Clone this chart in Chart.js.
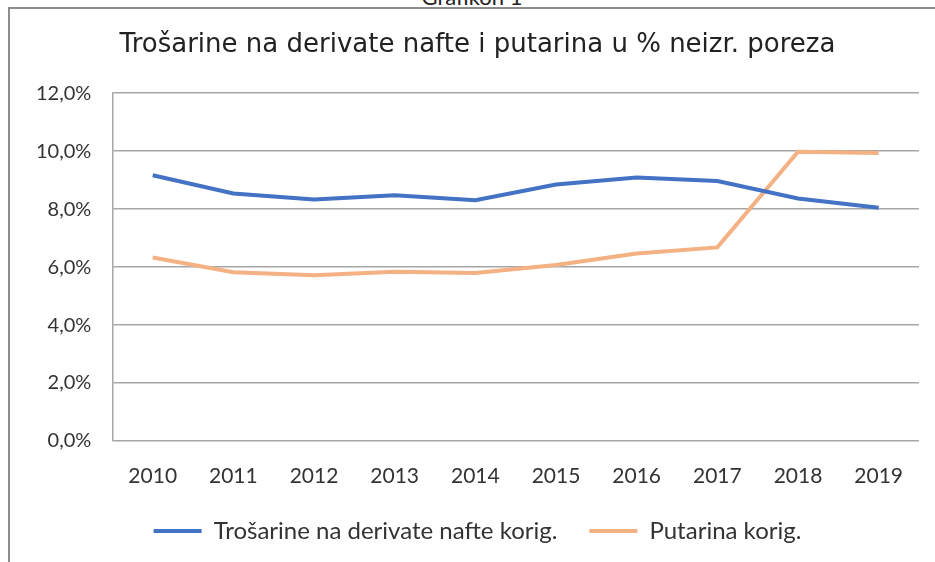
<!DOCTYPE html>
<html>
<head>
<meta charset="utf-8">
<script src="https://cdn.jsdelivr.net/npm/chart.js@4/dist/chart.umd.min.js"></script>
<style>
  html, body { margin: 0; padding: 0; background: #fff; overflow: hidden; width: 935px; height: 562px; }
  #caption {
    position: absolute; left: 0; top: -17px; width: 944px; text-align: center;
    font-family: Lato, sans-serif; font-size: 22px; color: #222;
  }
  #frame {
    position: absolute; left: 8px; top: 7px; width: 980px; height: 620px;
    border-left: 2px solid #8c8c8c; border-top: 2px solid #8c8c8c; background: #fff;
  }
  #wrap { position: absolute; left: 0; top: 0; width: 960px; height: 544px; }
</style>
</head>
<body>
<div id="caption">Grafikon 1</div>
<div id="frame">
  <div id="wrap"><canvas id="chart"></canvas></div>
</div>
<script>
// Chart data
const years = ['2010', '2011', '2012', '2013', '2014', '2015', '2016', '2017', '2018', '2019'];
const trosarine = [9.17, 8.54, 8.33, 8.48, 8.31, 8.85, 9.09, 8.97, 8.37, 8.05];
const putarina = [6.33, 5.82, 5.72, 5.84, 5.80, 6.07, 6.47, 6.68, 9.98, 9.94];
const seriesNames = ['Trošarine na derivate nafte korig.', 'Putarina korig.'];
const chartTitle = 'Trošarine na derivate nafte i putarina u % neizr. poreza';

const fontFamily = 'Lato, sans-serif';
const textColor = '#333333';

const ctx = document.getElementById('chart').getContext('2d');
const chart = new Chart(ctx, {
  type: 'line',
  data: {
    labels: years,
    datasets: [
      {
        label: seriesNames[0],
        data: trosarine,
        borderColor: '#4472C4',
        backgroundColor: '#4472C4',
        borderWidth: 4,
        pointRadius: 0,
        tension: 0
      },
      {
        label: seriesNames[1],
        data: putarina,
        borderColor: '#F4B183',
        backgroundColor: '#F4B183',
        borderWidth: 4,
        pointRadius: 0,
        tension: 0
      }
    ]
  },
  options: {
    responsive: true,
    maintainAspectRatio: false,
    animation: false,
    layout: {
      padding: { left: 26, right: 51, top: 0, bottom: 0 }
    },
    scales: {
      x: {
        offset: true,
        // tick marks are hidden, tickLength only spaces the labels
        grid: { display: false, drawTicks: true, tickLength: 25 },
        border: { display: false },
        ticks: {
          color: textColor,
          font: { family: fontFamily, size: 21, lineHeight: 1 },
          padding: 0,
          maxRotation: 0
        }
      },
      y: {
        min: 0,
        max: 12,
        ticks: {
          stepSize: 2,
          color: textColor,
          font: { family: fontFamily, size: 20 },
          padding: 0,
          callback: v => v.toFixed(1).replace('.', ',') + '%'
        },
        grid: { color: '#a6a6a6', lineWidth: 1.5, drawTicks: true, tickLength: 21, tickColor: 'rgba(0,0,0,0)' },
        border: { display: true, color: '#a6a6a6', width: 1.5 }
      }
    },
    plugins: {
      title: {
        display: true,
        text: chartTitle,
        color: '#222222',
        font: { family: '"DejaVu Sans", sans-serif', size: 26, weight: 'normal' },
        padding: { top: 21, bottom: 32 }
      },
      legend: {
        position: 'bottom',
        labels: {
          usePointStyle: true,
          pointStyle: 'line',
          pointStyleWidth: 48,
          color: textColor,
          font: { family: fontFamily, size: 24 },
          padding: 32
        }
      },
      tooltip: { enabled: false }
    }
  }
});
</script>
</body>
</html>
